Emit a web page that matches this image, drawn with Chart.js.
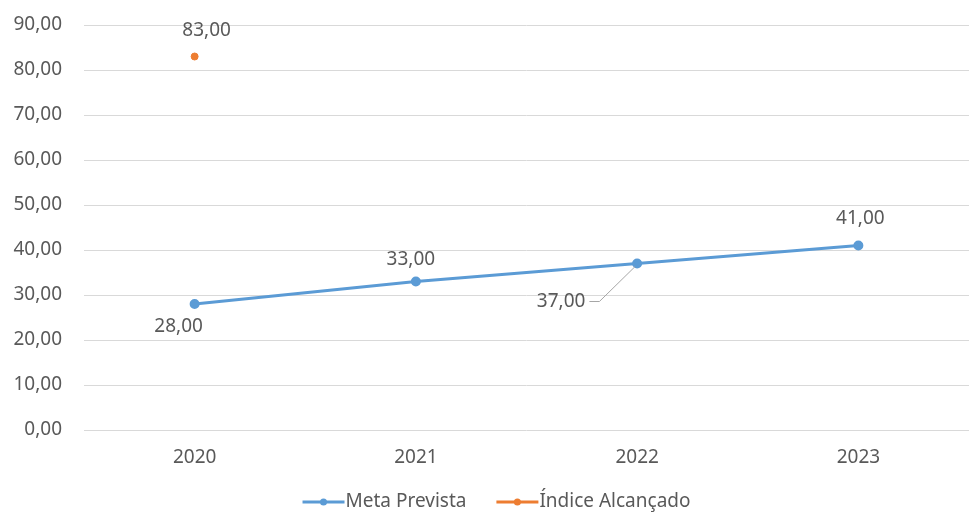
<!DOCTYPE html>
<html>
<head>
<meta charset="utf-8">
<script src="https://cdn.jsdelivr.net/npm/chart.js@4/dist/chart.umd.min.js"></script>
<style>
  html, body { margin: 0; padding: 0; background: #ffffff; overflow: hidden; }
  canvas { display: block; }
</style>
</head>
<body>
<canvas id="c" width="969" height="513"></canvas>
<script>
// Categories and series
const anos = ['2020', '2021', '2022', '2023'];
const metaPrevista = [28, 33, 37, 41];
const indiceAlcancado = [83, null, null, null];
const serieNomes = ['Meta Prevista', 'Índice Alcançado'];
const yMin = 0, yMax = 90, yPasso = 10;

const AZUL = '#5B9BD5';
const LARANJA = '#ED7D31';
const TEXTO = '#595959';
const FONTE = '"Noto Sans", "Open Sans", sans-serif';
const TAM = 19;

const fmt = v => v.toFixed(2).replace('.', ',');

// Value labels: offset (dx, dy) relative to the point, optional leader line
const rotulos = [
  { ds: 0, i: 0, dx: -16, dy: 23 },
  { ds: 0, i: 1, dx: -5, dy: -22 },
  { ds: 0, i: 2, dx: -76, dy: 38, leader: true },
  { ds: 0, i: 3, dx: 2, dy: -27 },
  { ds: 1, i: 0, dx: 12, dy: -26 }
];

const rotulosPlugin = {
  id: 'rotulos',
  afterDatasetsDraw(chart) {
    const ctx = chart.ctx;
    ctx.save();
    ctx.font = TAM + 'px ' + FONTE;
    ctx.fillStyle = TEXTO;
    ctx.textAlign = 'center';
    ctx.textBaseline = 'middle';
    rotulos.forEach(r => {
      const el = chart.getDatasetMeta(r.ds).data[r.i];
      const v = chart.data.datasets[r.ds].data[r.i];
      if (!el || v == null) return;
      const tx = el.x + r.dx, ty = el.y + r.dy;
      const txt = fmt(v);
      ctx.fillText(txt, tx, ty);
      if (r.leader) {
        const w = ctx.measureText(txt).width;
        ctx.beginPath();
        ctx.strokeStyle = '#a6a6a6';
        ctx.lineWidth = 1;
        ctx.moveTo(tx + w / 2 + 4, ty);
        ctx.lineTo(tx + w / 2 + 14, ty);
        ctx.lineTo(el.x - 2, el.y + 3);
        ctx.stroke();
      }
    });
    ctx.restore();
  }
};

// Legend drawn below the axis: line with a dot marker, then the series name
const legendaPlugin = {
  id: 'legendaLinha',
  afterDraw(chart) {
    const ctx = chart.ctx;
    ctx.save();
    ctx.font = TAM + 'px ' + FONTE;
    ctx.textBaseline = 'middle';
    ctx.textAlign = 'left';
    const cores = [AZUL, LARANJA];
    const amostra = 42, gapTexto = 1, gapItens = 30;
    const larguras = serieNomes.map(n => amostra + gapTexto + ctx.measureText(n).width);
    const total = larguras.reduce((a, b) => a + b, 0) + gapItens;
    let x = (chart.width - total) / 2 + 12;
    const y = 502;
    serieNomes.forEach((n, k) => {
      ctx.strokeStyle = cores[k];
      ctx.lineWidth = 3;
      ctx.beginPath();
      ctx.moveTo(x, y);
      ctx.lineTo(x + amostra, y);
      ctx.stroke();
      ctx.fillStyle = cores[k];
      ctx.beginPath();
      ctx.arc(x + amostra / 2, y, 3.5, 0, Math.PI * 2);
      ctx.fill();
      ctx.fillStyle = TEXTO;
      ctx.fillText(n, x + amostra + gapTexto, y);
      x += larguras[k] + gapItens;
    });
    ctx.restore();
  }
};

new Chart(document.getElementById('c'), {
  type: 'line',
  data: {
    labels: anos,
    datasets: [
      {
        label: serieNomes[0],
        data: metaPrevista,
        borderColor: AZUL,
        backgroundColor: AZUL,
        borderWidth: 3,
        pointRadius: 3.5,
        pointHoverRadius: 3.5,
        tension: 0
      },
      {
        label: serieNomes[1],
        data: indiceAlcancado,
        borderColor: LARANJA,
        backgroundColor: LARANJA,
        showLine: false,
        pointRadius: 3.5,
        pointHoverRadius: 3.5
      }
    ]
  },
  options: {
    responsive: false,
    devicePixelRatio: 1,
    animation: false,
    events: [],
    layout: { autoPadding: false, padding: { top: 25, right: 0, bottom: 33, left: 0 } },
    plugins: { legend: { display: false }, tooltip: { enabled: false } },
    scales: {
      x: {
        offset: true,
        grid: { display: false, drawTicks: false, offset: true },
        border: { display: false },
        ticks: { color: TEXTO, font: { size: TAM, family: FONTE }, padding: 16 },
        afterFit(s) {
          s.height = 50;
          s.paddingLeft = 0; s.paddingRight = 0;
        }
      },
      y: {
        min: yMin,
        max: yMax,
        ticks: {
          stepSize: yPasso,
          color: TEXTO,
          font: { size: TAM, family: FONTE },
          padding: 22,
          callback: v => fmt(v)
        },
        grid: { color: '#d9d9d9', lineWidth: 1, drawTicks: false },
        border: { display: false },
        afterFit(s) {
          s.width = 84;
          s.paddingTop = 0; s.paddingBottom = 0;
          s.paddingLeft = 0; s.paddingRight = 0;
        }
      }
    }
  },
  plugins: [rotulosPlugin, legendaPlugin]
});
</script>
</body>
</html>
